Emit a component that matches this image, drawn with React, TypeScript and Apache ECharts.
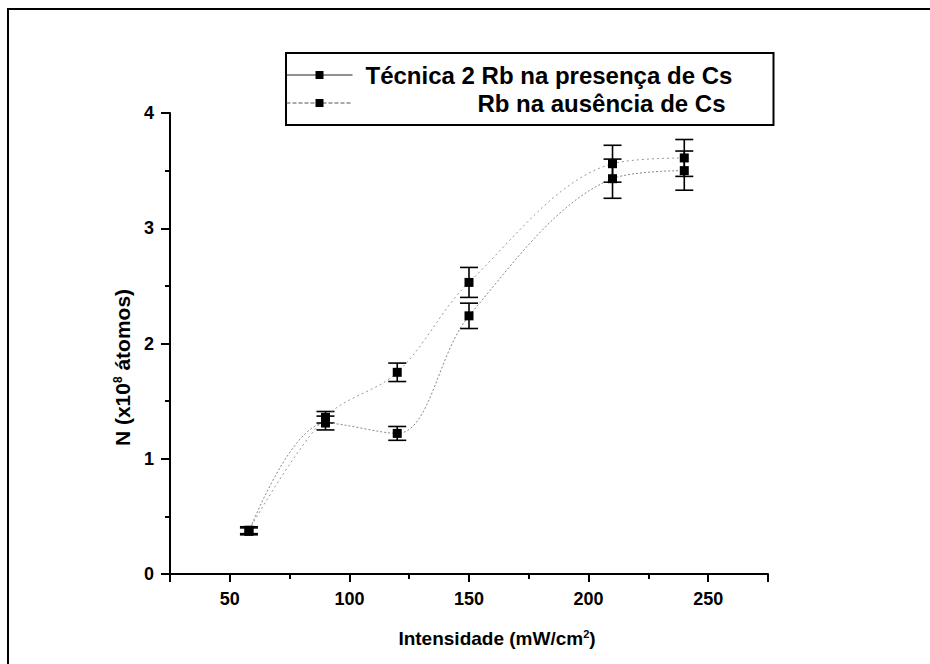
import React, { useEffect, useRef } from "react";
import * as echarts from "echarts";

const intensities = [58, 90, 120, 150, 210, 240];
const presenceN = [0.38, 1.36, 1.75, 2.53, 3.56, 3.61];
const presenceErr = [0.03, 0.05, 0.08, 0.13, 0.16, 0.16];
const absenceN = [0.37, 1.31, 1.22, 2.24, 3.43, 3.5];
const absenceErr = [0.03, 0.06, 0.06, 0.11, 0.17, 0.17];

const seriesNames = ["Técnica 2 Rb na presença de Cs", "Rb na ausência de Cs"];
const xTickLabels = [50, 100, 150, 200, 250];

const FONT = "Liberation Sans";

function errorBarRender(params: any, api: any) {
  const x = api.value(0);
  const y = api.value(1);
  const e = api.value(2);
  const top = api.coord([x, y + e]);
  const bot = api.coord([x, y - e]);
  const hw = 9;
  const style = { stroke: "#000", lineWidth: 1.6 };
  return {
    type: "group",
    children: [
      { type: "line", shape: { x1: top[0], y1: top[1], x2: bot[0], y2: bot[1] }, style },
      { type: "line", shape: { x1: top[0] - hw, y1: top[1], x2: top[0] + hw, y2: top[1] }, style },
      { type: "line", shape: { x1: bot[0] - hw, y1: bot[1], x2: bot[0] + hw, y2: bot[1] }, style },
    ],
  };
}

const makeRich = (size: number) => ({
  n: { fontFamily: FONT, fontSize: size, color: "#000", fontWeight: "bold" },
  sup: { fontFamily: FONT, fontSize: Math.round(size * 0.58), color: "#000", fontWeight: "bold", verticalAlign: "top", padding: [0, 0, 10, 0] },
});

export default function App() {
  const ref = useRef<HTMLDivElement>(null);
  useEffect(() => {
    if (!ref.current) return;
    const chart = echarts.init(ref.current, null, { renderer: "svg" });
    const pairs = (ys: number[]) => intensities.map((x, i) => [x, ys[i]]);
    const errs = (ys: number[], es: number[]) => intensities.map((x, i) => [x, ys[i], es[i]]);
    chart.setOption({
      animation: false,
      backgroundColor: "#fff",
      graphic: [
        {
          type: "rect",
          shape: { x: 8, y: 9, width: 980, height: 720 },
          style: { fill: "none", stroke: "#000", lineWidth: 2 },
          z: -1,
        },
      ],
      grid: { left: 170, top: 113, right: 162, bottom: 90, containLabel: false },
      legend: {
        left: 286,
        top: 53,
        orient: "vertical",
        borderColor: "#000",
        borderWidth: 2,
        borderRadius: 0,
        padding: [10, 38, 10, 0],
        itemWidth: 66,
        itemHeight: 10,
        itemGap: 4,
        data: [
          { name: seriesNames[0], lineStyle: { type: "solid", color: "#222", width: 1 } },
          { name: seriesNames[1], lineStyle: { type: "dashed", color: "#555", width: 1 } },
        ],
        formatter: (name: string) => (name === seriesNames[1] ? `{r|${name}}` : `{l|${name}}`),
        textStyle: {
          fontFamily: FONT,
          fontWeight: "bold",
          fontSize: 24,
          color: "#000",
          lineHeight: 24,
          rich: {
            l: { width: 370, align: "left", padding: [0, 0, 0, 8], fontFamily: FONT, fontWeight: "bold", fontSize: 24, lineHeight: 24, color: "#000" },
            r: { width: 368, align: "right", padding: [0, 10, 0, 0], fontFamily: FONT, fontWeight: "bold", fontSize: 24, lineHeight: 24, color: "#000" },
          },
        },
      },
      xAxis: [
        {
          type: "value",
          min: 25,
          max: 275,
          position: "bottom",
          splitLine: { show: false },
          axisLine: { show: true, onZero: false, lineStyle: { color: "#000", width: 2 } },
          axisTick: { show: true, length: 8, lineStyle: { color: "#000", width: 2 } },
          axisLabel: {
            margin: 16,
            color: "#000",
            fontFamily: FONT,
            fontWeight: "bold",
            fontSize: 18,
            formatter: (v: number) => (xTickLabels.indexOf(v) >= 0 ? String(v) : ""),
          },
          name: "{n|Intensidade (mW/cm}{sup|2}{n|)}",
          nameLocation: "middle",
          nameGap: 54,
          nameTextStyle: {
            color: "#000",
            fontFamily: FONT,
            fontWeight: "bold",
            fontSize: 19,
            padding: [0, 0, 0, 56],
            rich: makeRich(19),
          },
        },
        {
          type: "value",
          min: 25,
          max: 275,
          interval: 25,
          position: "bottom",
          splitLine: { show: false },
          axisLine: { show: false },
          axisTick: { show: true, length: 5, lineStyle: { color: "#000", width: 2 } },
          axisLabel: { show: false },
        },
      ],
      yAxis: {
        type: "value",
        min: 0,
        max: 4,
        interval: 1,
        splitLine: { show: false },
        axisLine: { show: true, onZero: false, lineStyle: { color: "#000", width: 2 } },
        axisTick: { show: true, length: 9, lineStyle: { color: "#000", width: 2 } },
        minorTick: { show: true, splitNumber: 2, length: 5, lineStyle: { color: "#000", width: 2 } },
        axisLabel: { margin: 16, color: "#000", fontFamily: FONT, fontWeight: "bold", fontSize: 18 },
        name: "{n|N (x10}{sup|8}{n| átomos)}",
        nameLocation: "middle",
        nameGap: 33,
        nameTextStyle: {
          color: "#000",
          fontFamily: FONT,
          fontWeight: "bold",
          fontSize: 21,
          padding: [0, 48, 0, 0],
          rich: makeRich(21),
        },
      },
      series: [
        {
          name: seriesNames[0],
          type: "line",
          data: pairs(presenceN),
          smooth: 0.35,
          symbol: "rect",
          symbolSize: 9,
          itemStyle: { color: "#000" },
          lineStyle: { color: "#999", width: 1, type: [2, 3] },
          z: 3,
        },
        {
          name: seriesNames[1],
          type: "line",
          data: pairs(absenceN),
          smooth: 0.35,
          symbol: "rect",
          symbolSize: 9,
          itemStyle: { color: "#000" },
          lineStyle: { color: "#888", width: 1, type: [2, 2] },
          z: 3,
        },
        {
          type: "custom",
          name: "err-presence",
          renderItem: errorBarRender,
          data: errs(presenceN, presenceErr),
          encode: { x: 0, y: 1 },
          z: 2,
        },
        {
          type: "custom",
          name: "err-absence",
          renderItem: errorBarRender,
          data: errs(absenceN, absenceErr),
          encode: { x: 0, y: 1 },
          z: 2,
        },
      ],
    });
    return () => chart.dispose();
  }, []);
  return (
    <div
      ref={ref}
      style={{ position: "absolute", left: 0, top: 0, width: 930, height: 664, background: "#fff" }}
    />
  );
}
